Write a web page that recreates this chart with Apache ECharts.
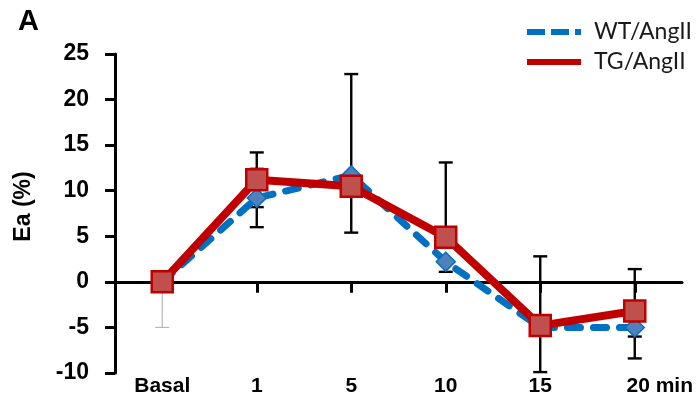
<!DOCTYPE html>
<html>
<head>
<meta charset="utf-8">
<script src="https://cdn.jsdelivr.net/npm/echarts@6/dist/echarts.min.js"></script>
<style>html,body{margin:0;padding:0;background:#fff}#c{width:699px;height:399px}</style>
</head>
<body>
<div id="c"></div>
<script>
// ---- data ----
const categories = ['Basal', '1', '5', '10', '15', '20 min'];
const wtValues = [0, 9.2, 11.7, 2.2, -5.0, -5.0];
const tgValues = [0, 11.2, 10.5, 4.9, -4.8, -3.2];
// error bar extents (low / high)
const wtLow  = [-5.0, 6.0, 11.7, 1.1, -9.9, -6.0];
const wtHigh = [0.0, 12.4, 22.8, 2.2, -5.0, -3.8];
const tgLow  = [0.0, 8.2, 5.4, 4.9, -4.8, -8.4];
const tgHigh = [0.0, 14.2, 10.5, 13.1, 2.8, 1.4];
const yTicks = { min: -10, max: 25, step: 5 };

function errData(vals, lo, hi) {
  return vals.map((v, i) => [i, lo[i], hi[i], v]);
}

function renderErr(params, api) {
  const i = api.value(0), lo = api.value(1), hi = api.value(2), m = api.value(3);
  if (lo === hi) return null;
  const pLo = api.coord([i, lo]), pHi = api.coord([i, hi]);
  const x = pLo[0];
  const grey = i === 0;
  const style = { stroke: grey ? '#b8b8b8' : '#000', lineWidth: grey ? 1.2 : 2.4 };
  const hw = 7;
  const children = [{ type: 'line', shape: { x1: x, y1: pLo[1], x2: x, y2: pHi[1] }, style }];
  if (lo !== m) children.push({ type: 'line', shape: { x1: x - hw, y1: pLo[1], x2: x + hw, y2: pLo[1] }, style });
  if (hi !== m) children.push({ type: 'line', shape: { x1: x - hw, y1: pHi[1], x2: x + hw, y2: pHi[1] }, style });
  return { type: 'group', children };
}

const chart = echarts.init(document.getElementById('c'), null, { renderer: 'canvas' });
const bold = { fontFamily: 'Liberation Sans, Arial, sans-serif', fontWeight: 'bold', color: '#000' };

chart.setOption({
  animation: false,
  title: {
    text: 'A', left: 18, top: 7, padding: 0,
    textStyle: Object.assign({}, bold, { fontSize: 29 })
  },
  legend: {
    orient: 'vertical', left: 524, top: 20, padding: 0,
    itemWidth: 54, itemHeight: 14, itemGap: 6,
    itemStyle: { opacity: 0 },
    textStyle: { fontFamily: 'Lato, sans-serif', fontSize: 23, color: '#1a1a1a', padding: [0, 0, 0, 8], lineHeight: 24 },
    data: [
      { name: 'WT/AngII', lineStyle: { width: 6, type: [18, 6], cap: 'butt' } },
      { name: 'TG/AngII', lineStyle: { width: 6 } }
    ]
  },
  grid: { left: 115, right: 17, top: 54, bottom: 26, containLabel: false, outerBoundsMode: 'none' },
  xAxis: [
    {
      type: 'category', data: categories, boundaryGap: true,
      axisLine: { onZero: true, onZeroAxisIndex: 0, lineStyle: { color: '#000', width: 3 } },
      axisTick: { show: true, alignWithLabel: true, interval: 0, length: 11, lineStyle: { color: '#000', width: 3 } },
      axisLabel: { show: false }, splitLine: { show: false }
    },
    {
      type: 'category', data: categories, boundaryGap: true,
      axisLine: { show: false, onZero: true, onZeroAxisIndex: 0 },
      axisTick: { show: true, inside: true, alignWithLabel: true, interval: 0, length: 11, lineStyle: { color: '#000', width: 3 } },
      axisLabel: { show: false }, splitLine: { show: false }
    },
    {
      type: 'category', data: categories.map((c, i) => i === categories.length - 1 ? { value: c, textStyle: { padding: [0, 0, 0, 50] } } : c),
      boundaryGap: true, position: 'bottom',
      axisLine: { show: false, onZero: false }, axisTick: { show: false },
      axisLabel: Object.assign({ interval: 0, margin: 3, fontSize: 21 }, bold),
      splitLine: { show: false }
    }
  ],
  yAxis: {
    type: 'value', min: yTicks.min, max: yTicks.max, interval: yTicks.step,
    name: 'Ea (%)', nameLocation: 'middle', nameGap: 80,
    nameTextStyle: Object.assign({ fontSize: 23, padding: [0, 0, 0, 14] }, bold),
    axisLine: { show: true, lineStyle: { color: '#000', width: 3 } },
    axisTick: { show: true, length: 10, lineStyle: { color: '#000', width: 3 } },
    axisLabel: Object.assign({ margin: 26, fontSize: 23 }, bold),
    splitLine: { show: false }
  },
  series: [
    {
      name: 'WT/AngII', type: 'line', data: wtValues, z: 3,
      symbol: 'diamond', symbolSize: 19,
      lineStyle: { color: '#0070C0', width: 7, type: [13, 13], cap: 'round' },
      itemStyle: { color: '#4F81BD', borderColor: '#0070C0', borderWidth: 1.5 }
    },
    {
      name: 'TG/AngII', type: 'line', data: tgValues, z: 4,
      symbol: 'rect', symbolSize: 21,
      lineStyle: { color: '#C00000', width: 8 },
      itemStyle: { color: '#C0504D', borderColor: '#C00000', borderWidth: 2.5 }
    },
    {
      name: 'errWT', type: 'custom', z: 1, renderItem: renderErr,
      data: errData(wtValues, wtLow, wtHigh), silent: true
    },
    {
      name: 'errTG', type: 'custom', z: 1, renderItem: renderErr,
      data: errData(tgValues, tgLow, tgHigh), silent: true
    }
  ]
});
</script>
</body>
</html>
